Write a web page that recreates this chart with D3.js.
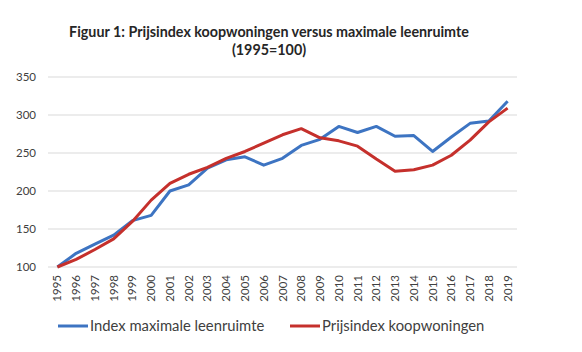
<!DOCTYPE html>
<html lang="nl">
<head>
<meta charset="UTF-8">
<title>Figuur 1</title>
<script src="https://d3js.org/d3.v7.min.js"></script>
<style>
  body { margin: 0; background: #fff; }
  svg { display: block; font-family: Lato, "Open Sans", sans-serif; }
</style>
</head>
<body>
<svg id="chart" width="582" height="352"></svg>
<script>
const years = ["1995","1996","1997","1998","1999","2000","2001","2002","2003","2004","2005","2006","2007",
               "2008","2009","2010","2011","2012","2013","2014","2015","2016","2017","2018","2019"];
const leenruimte = [100,118,130,142,161,168,200,208,230,241,245,234,243,260,268,285,277,285,272,273,252,271,289,292,318];
const prijsindex = [100,110,123,137,160,188,210,222,231,243,252,263,274,282,270,266,259,242,226,228,234,247,267,291,309];
const yTicks = [100,150,200,250,300,350];
const seriesNames = ["Index maximale leenruimte", "Prijsindex koopwoningen"];
const colors = ["#3d74c2", "#c5302c"];

const svg = d3.select("#chart");
const margin = {left: 48, right: 65, top: 77, bottom: 85};
const W = 582, H = 352;

const x = d3.scalePoint().domain(years).range([margin.left, W - margin.right]).padding(0.5);
const y = d3.scaleLinear().domain([100, 350]).range([H - margin.bottom, margin.top]);

// titel
const title = svg.append("text").attr("text-anchor", "middle")
  .attr("fill", "#262626").style("font-weight", "bold").style("font-size", "14.3px");
title.append("tspan").attr("x", 269).attr("y", 37).text("Figuur 1: Prijsindex koopwoningen versus maximale leenruimte");
title.append("tspan").attr("x", 269).attr("y", 55).text("(1995=100)");

// rasterlijnen
svg.append("g").selectAll("line").data(yTicks).join("line")
  .attr("x1", margin.left).attr("x2", W - margin.right)
  .attr("y1", d => y(d)).attr("y2", d => y(d))
  .attr("stroke", "#d9d9d9").attr("stroke-width", 1);

// y-as labels
svg.append("g").selectAll("text").data(yTicks).join("text")
  .attr("x", 36).attr("y", d => y(d)).attr("dy", "0.35em")
  .attr("text-anchor", "end").attr("fill", "#404040").style("font-size", "11.5px")
  .text(d => d);

// x-as labels (gedraaid)
svg.append("g").selectAll("text").data(years).join("text")
  .attr("transform", d => `translate(${x(d)},275) rotate(-90)`)
  .attr("dy", "0.35em").attr("text-anchor", "end")
  .attr("fill", "#404040").style("font-size", "11.5px")
  .text(d => d);

// lijnen
const line = d3.line().x((d, i) => x(years[i])).y(d => y(d));
[leenruimte, prijsindex].forEach((s, i) => {
  svg.append("path").datum(s).attr("d", line)
    .attr("fill", "none").attr("stroke", colors[i]).attr("stroke-width", 3)
    .attr("stroke-linejoin", "round");
});

// legenda
const legX = [58, 290];
seriesNames.forEach((n, i) => {
  const g = svg.append("g").attr("transform", `translate(${legX[i]},326)`);
  g.append("line").attr("x1", 0).attr("x2", 30).attr("stroke", colors[i]).attr("stroke-width", 3);
  g.append("text").attr("x", 32).attr("dy", "0.35em").attr("fill", "#404040")
    .style("font-size", "14.8px").text(n);
});
</script>
</body>
</html>
